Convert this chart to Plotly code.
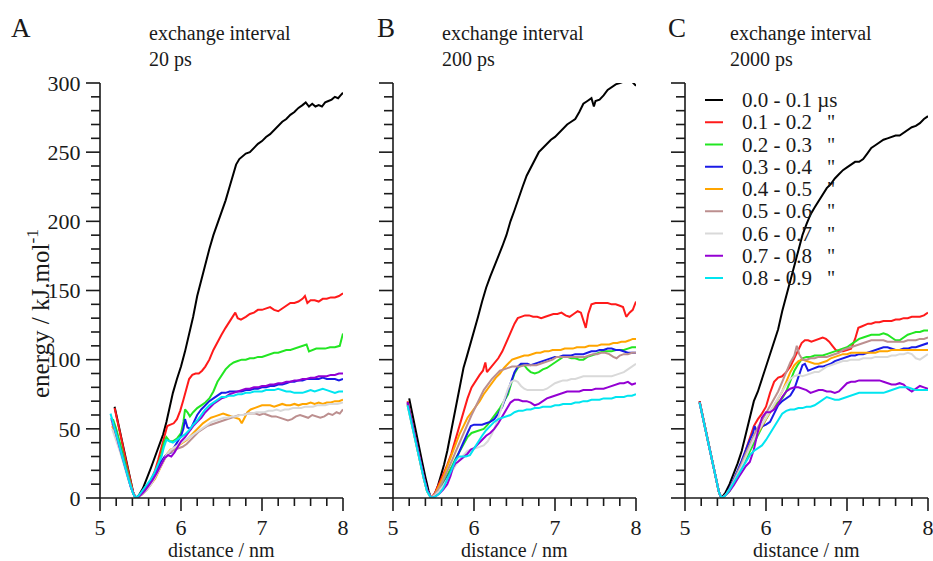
import plotly.graph_objects as go

# ---------------- data ----------------
LEGEND_LABELS = ["0.0 - 0.1 \u00b5s", "0.1 - 0.2", "0.2 - 0.3", "0.3 - 0.4", "0.4 - 0.5",
                 "0.5 - 0.6", "0.6 - 0.7", "0.7 - 0.8", "0.8 - 0.9"]
COLORS = ["#000000", "#ff1a1a", "#22e622", "#1a1ae6", "#ffa500",
          "#bc8f8f", "#d9d9d9", "#9400d3", "#00e5f0"]
PANEL_LETTERS = ["A", "B", "C"]
INTERVALS = ["20 ps", "200 ps", "2000 ps"]
X_TITLE = "distance / nm"
Y_TITLE = "energy / kJ.mol<sup>-1</sup>"
X_RANGE = [5, 8]
Y_RANGE = [0, 300]
X_MAJOR, X_MINOR = 1.0, 0.2
Y_MAJOR, Y_MINOR = 50, 10

# Panel A (exchange interval 20 ps)
A_BLACK = [(5.18,66),(5.22,55),(5.27,42),(5.32,28),(5.37,14),(5.41,4),(5.44,0),(5.48,2),(5.53,7),(5.58,14),(5.63,22),(5.68,30),(5.73,38),(5.78,46),(5.82,55),(5.86,66),(5.9,76),(5.95,86),(6.0,95),(6.05,106),(6.1,118),(6.15,131),(6.2,146),(6.25,158),(6.3,168),(6.35,180),(6.4,190),(6.45,198),(6.5,207),(6.55,215),(6.6,225),(6.64,234),(6.68,241),(6.72,245),(6.76,247),(6.8,249),(6.85,250),(6.9,253),(6.95,256),(7.0,258),(7.05,261),(7.1,263),(7.15,266),(7.2,269),(7.25,272),(7.3,274),(7.35,277),(7.4,279),(7.45,282),(7.5,284),(7.54,286),(7.58,283),(7.62,285),(7.66,283),(7.7,284),(7.74,283),(7.78,286),(7.82,287),(7.86,288),(7.9,290),(7.94,289),(7.97,291),(8.0,293)]
A_RED = [(5.18,65),(5.22,55),(5.27,41),(5.32,27),(5.37,13),(5.41,4),(5.44,0),(5.48,1),(5.53,4),(5.58,8),(5.63,13),(5.68,20),(5.72,28),(5.76,37),(5.8,46),(5.83,52),(5.87,53),(5.91,54),(5.95,57),(5.99,63),(6.03,71),(6.07,80),(6.1,86),(6.14,89),(6.18,90),(6.22,90),(6.26,92),(6.3,95),(6.35,100),(6.4,107),(6.45,113),(6.5,118),(6.55,123),(6.6,128),(6.64,131),(6.67,134),(6.7,130),(6.74,129),(6.8,131),(6.85,133),(6.9,134),(6.95,136),(7.0,136),(7.05,137),(7.1,138),(7.15,136),(7.2,135),(7.25,137),(7.3,139),(7.35,141),(7.4,141),(7.45,142),(7.5,144),(7.53,146),(7.56,141),(7.6,143),(7.65,143),(7.7,142),(7.75,144),(7.8,144),(7.85,145),(7.9,145),(7.95,146),(8.0,148)]
A_GREEN = [(5.16,57),(5.2,50),(5.25,39),(5.3,27),(5.35,15),(5.4,5),(5.44,0),(5.48,1),(5.53,4),(5.58,8),(5.63,13),(5.68,18),(5.72,24),(5.76,32),(5.79,40),(5.82,44),(5.86,41),(5.9,41),(5.95,43),(6.0,47),(6.03,55),(6.05,64),(6.08,62),(6.11,59),(6.15,62),(6.2,65),(6.25,67),(6.3,69),(6.35,72),(6.4,77),(6.45,84),(6.5,89),(6.55,93),(6.6,96),(6.65,98),(6.7,99),(6.75,100),(6.8,100),(6.85,101),(6.9,101),(6.95,102),(7.0,102),(7.05,103),(7.1,104),(7.15,105),(7.2,105),(7.25,106),(7.3,107),(7.35,107),(7.4,108),(7.45,109),(7.5,110),(7.55,111),(7.58,106),(7.62,107),(7.67,108),(7.72,108),(7.78,108),(7.84,109),(7.9,109),(7.96,110),(7.98,114),(8.0,119)]
A_BLUE = [(5.14,58),(5.18,51),(5.23,40),(5.28,29),(5.33,18),(5.38,8),(5.42,2),(5.45,0),(5.5,3),(5.55,7),(5.6,10),(5.65,14),(5.7,20),(5.75,26),(5.8,30),(5.84,32),(5.88,33),(5.92,37),(5.96,41),(6.0,45),(6.03,50),(6.05,57),(6.08,51),(6.12,50),(6.16,55),(6.2,60),(6.25,64),(6.3,67),(6.35,70),(6.4,72),(6.45,74),(6.5,76),(6.55,76),(6.6,77),(6.65,77),(6.7,77),(6.75,77),(6.8,78),(6.85,78),(6.9,79),(6.95,79),(7.0,80),(7.05,80),(7.1,81),(7.15,81),(7.2,82),(7.25,82),(7.3,83),(7.35,84),(7.4,84),(7.45,85),(7.5,85),(7.55,86),(7.6,86),(7.65,86),(7.7,86),(7.75,87),(7.8,86),(7.85,86),(7.9,86),(7.95,85),(8.0,86)]
A_ORANGE = [(5.15,52),(5.2,44),(5.25,34),(5.3,24),(5.35,14),(5.4,5),(5.44,0),(5.48,1),(5.53,3),(5.58,6),(5.63,10),(5.68,14),(5.73,20),(5.78,26),(5.83,32),(5.87,35),(5.92,36),(5.97,38),(6.02,40),(6.07,42),(6.12,45),(6.17,48),(6.22,51),(6.27,54),(6.32,56),(6.37,58),(6.42,59),(6.47,60),(6.52,61),(6.57,60),(6.62,59),(6.67,58),(6.72,57),(6.75,54),(6.78,58),(6.82,62),(6.86,64),(6.9,65),(6.95,66),(7.0,67),(7.05,67),(7.1,67),(7.15,66),(7.2,67),(7.25,68),(7.3,67),(7.35,67),(7.4,68),(7.45,67),(7.5,68),(7.55,68),(7.6,69),(7.65,68),(7.7,69),(7.75,68),(7.8,69),(7.85,69),(7.9,70),(7.95,70),(8.0,71)]
A_BROWN = [(5.15,54),(5.2,46),(5.25,35),(5.3,24),(5.35,14),(5.4,5),(5.44,0),(5.48,1),(5.53,3),(5.58,6),(5.63,10),(5.68,15),(5.73,21),(5.78,27),(5.83,32),(5.87,33),(5.92,35),(5.97,36),(6.02,37),(6.07,39),(6.12,42),(6.17,45),(6.22,48),(6.27,50),(6.32,52),(6.37,53),(6.42,54),(6.47,55),(6.52,56),(6.57,57),(6.62,58),(6.67,59),(6.72,60),(6.77,60),(6.82,61),(6.87,61),(6.92,61),(6.97,60),(7.02,61),(7.07,60),(7.12,59),(7.17,59),(7.22,58),(7.27,57),(7.32,56),(7.37,57),(7.42,59),(7.47,60),(7.52,59),(7.57,58),(7.62,60),(7.67,59),(7.72,58),(7.77,59),(7.82,61),(7.87,60),(7.92,62),(7.96,61),(8.0,64)]
A_GRAY = [(5.15,50),(5.2,42),(5.25,33),(5.3,23),(5.35,13),(5.4,5),(5.44,0),(5.48,1),(5.53,3),(5.58,6),(5.63,10),(5.68,15),(5.73,21),(5.78,27),(5.83,32),(5.88,35),(5.93,37),(5.98,39),(6.03,41),(6.08,43),(6.13,45),(6.18,47),(6.23,49),(6.28,51),(6.33,53),(6.38,55),(6.43,56),(6.48,57),(6.53,58),(6.58,58),(6.63,59),(6.68,59),(6.73,60),(6.78,60),(6.83,61),(6.88,61),(6.93,62),(6.98,62),(7.03,62),(7.08,63),(7.13,63),(7.18,64),(7.23,63),(7.28,64),(7.33,64),(7.38,65),(7.43,65),(7.48,65),(7.53,66),(7.58,66),(7.63,66),(7.68,67),(7.73,67),(7.78,67),(7.83,68),(7.88,68),(7.93,68),(8.0,69)]
A_PURPLE = [(5.14,57),(5.18,50),(5.23,39),(5.28,28),(5.33,17),(5.38,8),(5.42,2),(5.45,0),(5.5,2),(5.55,5),(5.6,9),(5.65,13),(5.7,18),(5.75,24),(5.8,29),(5.84,31),(5.88,30),(5.92,33),(5.96,37),(6.0,41),(6.05,44),(6.1,48),(6.15,52),(6.2,55),(6.25,58),(6.3,62),(6.35,65),(6.4,68),(6.45,70),(6.5,72),(6.55,73),(6.6,75),(6.65,76),(6.7,77),(6.75,78),(6.8,79),(6.85,79),(6.9,80),(6.95,80),(7.0,81),(7.05,81),(7.1,82),(7.15,82),(7.2,83),(7.25,83),(7.3,84),(7.35,84),(7.4,85),(7.45,85),(7.5,86),(7.55,86),(7.6,87),(7.65,87),(7.7,88),(7.75,88),(7.8,88),(7.85,89),(7.9,89),(7.95,90),(8.0,90)]
A_CYAN = [(5.13,61),(5.17,53),(5.22,42),(5.27,31),(5.32,20),(5.37,10),(5.41,3),(5.44,0),(5.48,2),(5.52,5),(5.57,9),(5.62,13),(5.67,18),(5.72,24),(5.76,30),(5.79,37),(5.82,42),(5.86,41),(5.9,40),(5.95,42),(6.0,44),(6.05,46),(6.1,49),(6.15,53),(6.2,56),(6.25,60),(6.3,64),(6.35,67),(6.4,69),(6.45,71),(6.5,73),(6.55,73),(6.6,74),(6.65,74),(6.7,75),(6.75,75),(6.8,76),(6.85,76),(6.9,77),(6.95,77),(7.0,77),(7.05,78),(7.1,78),(7.15,78),(7.2,79),(7.25,78),(7.3,77),(7.35,77),(7.4,76),(7.45,76),(7.5,76),(7.55,77),(7.6,78),(7.65,77),(7.7,78),(7.75,79),(7.8,78),(7.85,77),(7.9,76),(7.95,77),(8.0,77)]

# Panel B (exchange interval 200 ps)
B_BLACK = [(5.2,72),(5.24,60),(5.28,48),(5.32,37),(5.36,26),(5.4,15),(5.44,5),(5.47,0),(5.51,2),(5.55,8),(5.59,16),(5.63,24),(5.67,34),(5.71,46),(5.75,58),(5.79,71),(5.83,84),(5.87,94),(5.91,102),(5.95,110),(6.0,120),(6.05,131),(6.1,142),(6.15,152),(6.2,160),(6.25,167),(6.3,175),(6.35,182),(6.4,190),(6.45,200),(6.5,208),(6.55,217),(6.6,225),(6.65,233),(6.7,239),(6.75,245),(6.8,250),(6.85,253),(6.9,256),(6.95,259),(7.0,261),(7.05,264),(7.1,267),(7.15,270),(7.2,272),(7.25,274),(7.3,279),(7.35,285),(7.4,287),(7.45,289),(7.48,283),(7.5,287),(7.55,288),(7.6,291),(7.65,295),(7.7,297),(7.75,299),(7.8,300),(7.85,301),(7.9,301),(7.95,301),(8.0,298)]
B_RED = [(5.18,70),(5.22,59),(5.26,47),(5.3,36),(5.34,25),(5.38,15),(5.42,6),(5.47,0),(5.52,4),(5.57,10),(5.62,17),(5.67,24),(5.72,32),(5.77,42),(5.82,52),(5.87,63),(5.92,72),(5.97,80),(6.02,85),(6.07,89),(6.11,92),(6.14,98),(6.16,91),(6.2,94),(6.25,98),(6.3,101),(6.35,106),(6.4,113),(6.45,119),(6.5,126),(6.54,130),(6.58,131),(6.63,132),(6.68,132),(6.73,131),(6.78,131),(6.83,130),(6.88,131),(6.93,132),(6.98,133),(7.03,133),(7.08,134),(7.13,132),(7.18,131),(7.23,133),(7.28,135),(7.32,134),(7.35,129),(7.38,123),(7.41,133),(7.45,140),(7.5,141),(7.55,141),(7.6,141),(7.65,141),(7.7,140),(7.75,140),(7.8,139),(7.84,138),(7.88,131),(7.92,134),(7.96,136),(8.0,142)]
B_GREEN = [(5.18,68),(5.22,57),(5.26,46),(5.3,35),(5.34,24),(5.38,14),(5.42,5),(5.47,0),(5.52,2),(5.57,6),(5.62,11),(5.67,16),(5.72,22),(5.77,28),(5.82,33),(5.87,38),(5.92,44),(5.97,47),(6.02,48),(6.07,49),(6.12,50),(6.17,53),(6.22,57),(6.27,61),(6.32,65),(6.37,70),(6.42,75),(6.46,83),(6.5,90),(6.54,94),(6.58,96),(6.62,96),(6.66,93),(6.7,91),(6.75,90),(6.8,91),(6.85,93),(6.9,94),(6.95,96),(7.0,98),(7.05,100),(7.1,102),(7.15,102),(7.2,101),(7.25,101),(7.3,100),(7.35,100),(7.4,102),(7.45,103),(7.5,104),(7.55,105),(7.6,106),(7.65,106),(7.7,106),(7.75,107),(7.8,107),(7.85,107),(7.9,108),(7.95,109),(8.0,109)]
B_BLUE = [(5.18,69),(5.22,58),(5.26,47),(5.3,36),(5.34,25),(5.38,15),(5.42,6),(5.47,0),(5.52,2),(5.57,5),(5.62,9),(5.67,14),(5.72,20),(5.77,27),(5.82,34),(5.87,41),(5.92,47),(5.96,52),(6.0,53),(6.05,53),(6.1,53),(6.15,54),(6.2,55),(6.25,57),(6.3,61),(6.35,66),(6.4,74),(6.45,83),(6.5,91),(6.54,95),(6.58,97),(6.62,97),(6.66,97),(6.7,96),(6.75,97),(6.8,98),(6.85,99),(6.9,100),(6.95,101),(7.0,102),(7.05,102),(7.1,103),(7.15,103),(7.2,103),(7.25,104),(7.3,104),(7.35,104),(7.4,105),(7.45,106),(7.5,106),(7.55,107),(7.6,107),(7.65,108),(7.7,108),(7.75,107),(7.8,107),(7.85,106),(7.9,105),(7.95,105),(8.0,105)]
B_ORANGE = [(5.18,68),(5.22,57),(5.26,46),(5.3,35),(5.34,24),(5.38,14),(5.42,5),(5.47,0),(5.52,3),(5.57,9),(5.62,15),(5.67,23),(5.72,31),(5.77,39),(5.82,46),(5.87,52),(5.92,58),(5.97,62),(6.02,66),(6.07,70),(6.12,75),(6.17,79),(6.22,83),(6.27,87),(6.32,90),(6.37,94),(6.42,97),(6.47,100),(6.52,101),(6.57,102),(6.62,103),(6.67,103),(6.72,104),(6.77,105),(6.82,105),(6.87,106),(6.92,106),(6.97,107),(7.02,107),(7.07,107),(7.12,108),(7.17,108),(7.22,108),(7.27,109),(7.32,109),(7.37,109),(7.42,110),(7.47,110),(7.52,110),(7.57,111),(7.62,111),(7.67,111),(7.72,112),(7.77,112),(7.82,113),(7.87,113),(7.92,114),(7.96,115),(8.0,115)]
B_BROWN = [(5.18,67),(5.22,56),(5.26,45),(5.3,34),(5.34,24),(5.38,14),(5.42,5),(5.47,0),(5.52,3),(5.57,7),(5.62,13),(5.67,19),(5.72,26),(5.77,33),(5.82,40),(5.87,47),(5.92,54),(5.97,60),(6.02,66),(6.07,72),(6.12,78),(6.17,82),(6.22,86),(6.27,89),(6.32,92),(6.37,93),(6.42,94),(6.47,95),(6.52,95),(6.57,95),(6.62,96),(6.67,96),(6.72,96),(6.77,96),(6.82,97),(6.87,98),(6.92,99),(6.97,100),(7.02,102),(7.07,102),(7.12,102),(7.17,102),(7.22,102),(7.27,102),(7.32,102),(7.37,102),(7.42,103),(7.47,104),(7.52,104),(7.57,105),(7.62,105),(7.67,104),(7.72,102),(7.76,101),(7.8,103),(7.85,104),(7.9,104),(7.95,105),(8.0,105)]
B_GRAY = [(5.18,67),(5.22,56),(5.26,45),(5.3,34),(5.34,24),(5.38,14),(5.42,5),(5.47,0),(5.52,2),(5.57,5),(5.62,9),(5.67,14),(5.72,19),(5.77,24),(5.82,28),(5.87,31),(5.92,34),(5.97,35),(6.02,36),(6.07,37),(6.12,38),(6.17,41),(6.22,46),(6.27,53),(6.32,62),(6.37,71),(6.42,79),(6.46,84),(6.5,85),(6.54,84),(6.58,81),(6.62,79),(6.66,78),(6.7,78),(6.75,78),(6.8,78),(6.85,78),(6.9,79),(6.95,81),(7.0,83),(7.05,84),(7.1,85),(7.15,85),(7.2,86),(7.25,86),(7.3,87),(7.35,88),(7.4,88),(7.45,88),(7.5,88),(7.55,88),(7.6,88),(7.65,88),(7.7,88),(7.75,89),(7.8,90),(7.85,91),(7.9,93),(7.95,95),(8.0,97)]
B_PURPLE = [(5.18,69),(5.22,58),(5.26,47),(5.3,36),(5.34,25),(5.38,15),(5.42,6),(5.47,0),(5.52,1),(5.57,3),(5.62,6),(5.67,10),(5.71,16),(5.74,22),(5.77,25),(5.8,26),(5.84,28),(5.88,30),(5.92,32),(5.96,35),(6.0,36),(6.05,39),(6.1,42),(6.15,45),(6.2,47),(6.25,50),(6.3,54),(6.35,59),(6.4,65),(6.45,69),(6.5,71),(6.55,71),(6.6,70),(6.65,70),(6.7,69),(6.75,67),(6.8,68),(6.85,70),(6.9,72),(6.95,73),(7.0,74),(7.05,75),(7.1,76),(7.15,77),(7.2,77),(7.25,77),(7.3,77),(7.35,78),(7.4,78),(7.45,78),(7.5,79),(7.55,79),(7.6,79),(7.65,80),(7.7,81),(7.75,82),(7.8,83),(7.85,83),(7.9,84),(7.95,82),(8.0,83)]
B_CYAN = [(5.18,67),(5.22,56),(5.26,45),(5.3,34),(5.34,24),(5.38,14),(5.42,5),(5.47,0),(5.52,1),(5.57,3),(5.62,7),(5.67,13),(5.72,20),(5.77,27),(5.81,30),(5.85,30),(5.9,30),(5.95,31),(6.0,36),(6.05,41),(6.1,45),(6.15,49),(6.2,52),(6.25,55),(6.3,57),(6.35,58),(6.4,59),(6.45,60),(6.5,62),(6.55,63),(6.6,63),(6.65,64),(6.7,64),(6.75,65),(6.8,65),(6.85,66),(6.9,66),(6.95,66),(7.0,67),(7.05,67),(7.1,68),(7.15,68),(7.2,68),(7.25,69),(7.3,69),(7.35,70),(7.4,70),(7.45,71),(7.5,71),(7.55,71),(7.6,72),(7.65,72),(7.7,72),(7.75,73),(7.8,73),(7.85,73),(7.9,74),(7.95,74),(8.0,75)]

# Panel C (exchange interval 2000 ps)
C_BLACK = [(5.18,70),(5.22,59),(5.26,47),(5.3,35),(5.34,24),(5.38,13),(5.42,4),(5.45,0),(5.5,4),(5.55,10),(5.6,17),(5.65,25),(5.7,34),(5.75,46),(5.8,60),(5.85,70),(5.9,77),(5.95,86),(6.0,95),(6.05,104),(6.1,113),(6.15,122),(6.2,135),(6.25,146),(6.3,158),(6.35,170),(6.4,180),(6.45,190),(6.5,198),(6.55,205),(6.6,210),(6.65,215),(6.7,220),(6.75,224),(6.8,227),(6.85,231),(6.9,234),(6.95,237),(7.0,239),(7.05,241),(7.1,243),(7.15,243),(7.2,245),(7.25,249),(7.3,253),(7.35,255),(7.4,257),(7.45,259),(7.5,260),(7.55,261),(7.6,262),(7.65,262),(7.7,264),(7.75,266),(7.8,268),(7.85,269),(7.9,271),(7.95,274),(8.0,276)]
C_RED = [(5.18,70),(5.22,59),(5.26,47),(5.3,35),(5.34,24),(5.38,13),(5.42,4),(5.45,0),(5.5,2),(5.55,6),(5.6,12),(5.65,18),(5.7,26),(5.75,35),(5.8,44),(5.85,52),(5.9,57),(5.95,61),(6.0,66),(6.05,76),(6.1,84),(6.15,87),(6.2,88),(6.25,91),(6.3,95),(6.35,101),(6.4,108),(6.44,112),(6.48,114),(6.52,114),(6.56,113),(6.6,114),(6.65,115),(6.7,116),(6.74,115),(6.78,113),(6.82,110),(6.86,107),(6.9,106),(6.95,106),(7.0,107),(7.05,108),(7.1,115),(7.14,123),(7.18,124),(7.22,125),(7.26,126),(7.3,126),(7.35,127),(7.4,127),(7.45,128),(7.5,128),(7.55,128),(7.6,129),(7.65,129),(7.7,130),(7.75,130),(7.8,131),(7.85,131),(7.9,131),(7.95,132),(8.0,134)]
C_GREEN = [(5.18,69),(5.22,58),(5.26,46),(5.3,35),(5.34,24),(5.38,13),(5.42,4),(5.45,0),(5.5,2),(5.55,5),(5.6,10),(5.65,16),(5.7,22),(5.75,28),(5.8,34),(5.85,40),(5.9,46),(5.95,52),(6.0,57),(6.05,62),(6.1,66),(6.15,69),(6.2,72),(6.25,77),(6.3,85),(6.35,92),(6.4,97),(6.45,101),(6.5,102),(6.55,102),(6.6,103),(6.65,103),(6.7,103),(6.75,104),(6.8,105),(6.85,106),(6.9,107),(6.95,108),(7.0,109),(7.05,111),(7.1,113),(7.15,115),(7.2,116),(7.25,117),(7.3,118),(7.35,118),(7.4,118),(7.45,119),(7.5,118),(7.55,116),(7.6,114),(7.65,114),(7.7,116),(7.75,118),(7.8,119),(7.85,120),(7.9,120),(7.95,121),(8.0,121)]
C_BLUE = [(5.18,69),(5.22,58),(5.26,46),(5.3,35),(5.34,24),(5.38,13),(5.42,4),(5.45,0),(5.5,2),(5.55,7),(5.6,13),(5.65,20),(5.7,27),(5.75,35),(5.8,42),(5.84,47),(5.86,52),(5.88,49),(5.92,50),(5.96,52),(6.0,53),(6.05,55),(6.1,61),(6.15,67),(6.2,70),(6.25,72),(6.3,74),(6.35,79),(6.4,87),(6.45,96),(6.48,97),(6.52,92),(6.56,93),(6.6,94),(6.65,95),(6.7,95),(6.75,96),(6.8,97),(6.85,99),(6.9,100),(6.95,101),(7.0,102),(7.05,103),(7.1,103),(7.15,104),(7.2,104),(7.25,105),(7.3,106),(7.35,107),(7.4,108),(7.45,109),(7.5,109),(7.55,108),(7.6,107),(7.65,107),(7.7,108),(7.75,108),(7.8,109),(7.85,109),(7.9,110),(7.95,111),(8.0,112)]
C_ORANGE = [(5.18,69),(5.22,58),(5.26,46),(5.3,35),(5.34,24),(5.38,13),(5.42,4),(5.45,0),(5.5,2),(5.55,6),(5.6,11),(5.65,17),(5.7,24),(5.75,31),(5.8,38),(5.85,43),(5.9,47),(5.95,52),(6.0,57),(6.05,62),(6.1,66),(6.15,71),(6.2,77),(6.25,84),(6.3,91),(6.35,96),(6.4,99),(6.45,100),(6.5,99),(6.55,98),(6.6,97),(6.65,97),(6.7,98),(6.75,99),(6.8,101),(6.85,102),(6.9,103),(6.95,104),(7.0,104),(7.05,105),(7.1,105),(7.15,105),(7.2,105),(7.25,105),(7.3,105),(7.35,105),(7.4,106),(7.45,106),(7.5,106),(7.55,107),(7.6,107),(7.65,107),(7.7,107),(7.75,107),(7.8,107),(7.85,107),(7.9,107),(7.95,107),(8.0,107)]
C_BROWN = [(5.18,69),(5.22,58),(5.26,46),(5.3,35),(5.34,24),(5.38,13),(5.42,4),(5.45,0),(5.5,2),(5.55,6),(5.6,12),(5.65,18),(5.7,25),(5.75,32),(5.8,39),(5.85,45),(5.9,51),(5.95,56),(6.0,61),(6.05,66),(6.1,71),(6.15,77),(6.2,84),(6.25,91),(6.3,98),(6.35,103),(6.38,110),(6.41,104),(6.45,100),(6.5,100),(6.55,101),(6.6,101),(6.65,102),(6.7,102),(6.75,102),(6.8,103),(6.85,104),(6.9,105),(6.95,107),(7.0,108),(7.05,109),(7.1,110),(7.15,111),(7.2,112),(7.25,113),(7.3,114),(7.35,114),(7.4,114),(7.45,114),(7.5,113),(7.55,113),(7.6,113),(7.65,113),(7.7,113),(7.75,114),(7.8,114),(7.85,114),(7.9,115),(7.95,115),(8.0,116)]
C_GRAY = [(5.18,69),(5.22,58),(5.26,46),(5.3,35),(5.34,24),(5.38,13),(5.42,4),(5.45,0),(5.5,2),(5.55,6),(5.6,11),(5.65,17),(5.7,23),(5.75,30),(5.8,37),(5.85,43),(5.9,48),(5.95,53),(6.0,58),(6.05,63),(6.1,68),(6.15,73),(6.2,78),(6.25,82),(6.3,86),(6.35,88),(6.4,89),(6.45,88),(6.5,89),(6.55,90),(6.6,91),(6.65,91),(6.7,93),(6.75,95),(6.8,96),(6.85,97),(6.9,98),(6.95,99),(7.0,99),(7.05,100),(7.1,100),(7.15,100),(7.2,101),(7.25,101),(7.3,101),(7.35,102),(7.4,102),(7.45,102),(7.5,102),(7.55,103),(7.6,103),(7.65,104),(7.7,104),(7.75,105),(7.8,104),(7.85,101),(7.9,100),(7.95,102),(8.0,104)]
C_PURPLE = [(5.18,69),(5.22,58),(5.26,46),(5.3,35),(5.34,24),(5.38,13),(5.42,4),(5.45,0),(5.5,2),(5.55,5),(5.6,9),(5.65,14),(5.7,19),(5.75,23),(5.8,26),(5.85,35),(5.9,48),(5.95,58),(6.0,62),(6.05,62),(6.1,64),(6.15,68),(6.2,73),(6.25,77),(6.3,79),(6.35,80),(6.4,80),(6.45,79),(6.5,78),(6.55,76),(6.6,77),(6.65,78),(6.7,78),(6.75,77),(6.8,77),(6.85,76),(6.9,77),(6.95,80),(7.0,83),(7.05,84),(7.1,84),(7.15,85),(7.2,85),(7.25,85),(7.3,85),(7.35,85),(7.4,85),(7.45,84),(7.5,83),(7.55,82),(7.6,82),(7.65,83),(7.7,82),(7.75,79),(7.8,77),(7.85,79),(7.9,81),(7.95,80),(8.0,79)]
C_CYAN = [(5.18,69),(5.22,58),(5.26,46),(5.3,35),(5.34,24),(5.38,13),(5.42,4),(5.45,0),(5.5,2),(5.55,6),(5.6,11),(5.65,16),(5.7,22),(5.75,27),(5.8,31),(5.85,34),(5.9,36),(5.95,38),(6.0,42),(6.05,47),(6.1,52),(6.15,57),(6.2,61),(6.25,63),(6.3,64),(6.35,64),(6.4,65),(6.45,65),(6.5,66),(6.55,66),(6.6,67),(6.65,69),(6.7,71),(6.75,73),(6.8,72),(6.85,71),(6.9,71),(6.95,72),(7.0,73),(7.05,74),(7.1,75),(7.15,76),(7.2,76),(7.25,76),(7.3,76),(7.35,76),(7.4,76),(7.45,76),(7.5,77),(7.55,78),(7.6,79),(7.65,80),(7.7,80),(7.75,80),(7.8,79),(7.85,78),(7.9,78),(7.95,78),(8.0,78)]

PANEL_SERIES = [
    [A_BLACK, A_RED, A_GREEN, A_BLUE, A_ORANGE, A_BROWN, A_GRAY, A_PURPLE, A_CYAN],
    [B_BLACK, B_RED, B_GREEN, B_BLUE, B_ORANGE, B_BROWN, B_GRAY, B_PURPLE, B_CYAN],
    [C_BLACK, C_RED, C_GREEN, C_BLUE, C_ORANGE, C_BROWN, C_GRAY, C_PURPLE, C_CYAN],
]

# ---------------- layout constants (pixels of the 933x561 page) ----------------
W, H = 933, 561
FONT = "Liberation Serif, Times New Roman, serif"
INK = "#1a1a1a"
AXW = 1.6
X_DOMAINS_PX = [(100, 343), (393, 636), (685, 928)]
Y_BOTTOM_PX, Y_TOP_PX = 498, 83
Y_DOMAIN = [(H - Y_BOTTOM_PX) / H, (H - Y_TOP_PX) / H]
LETTER_X_PX = [21, 386, 677]
TITLE_X_PX = [147, 440, 728]
X_MAJOR_LEN, X_MINOR_LEN = 13, 8
Y_MAJOR_LEN, Y_MINOR_LEN = 14, 9


def px(xp):
    return xp / W


def py(yp):
    return 1 - yp / H


def ax_id(letter, n):
    return letter if n == 1 else f"{letter}{n}"


fig = go.Figure()

for p, series in enumerate(PANEL_SERIES):
    for k, pts in enumerate(series):
        fig.add_trace(go.Scatter(
            x=[q[0] for q in pts], y=[q[1] for q in pts],
            mode="lines", name=LEGEND_LABELS[k],
            line=dict(color=COLORS[k], width=2),
            showlegend=False, xaxis=ax_id("x", p + 1), yaxis=ax_id("y", p + 1),
        ))

layout = dict(
    width=W, height=H, autosize=False,
    margin=dict(l=0, r=0, t=0, b=0, pad=0),
    paper_bgcolor="white", plot_bgcolor="white",
    showlegend=False,
    font=dict(family=FONT, color=INK),
)

for p in range(3):
    n = p + 1
    x0, x1 = X_DOMAINS_PX[p]
    # native axes provide the scale and the tick labels; tick marks/lines are drawn below
    layout["xaxis" if n == 1 else f"xaxis{n}"] = dict(
        domain=[px(x0), px(x1)], anchor=ax_id("y", n), range=X_RANGE,
        tickmode="linear", tick0=X_RANGE[0], dtick=X_MAJOR,
        ticks="outside", ticklen=X_MAJOR_LEN, tickcolor="rgba(0,0,0,0)",
        ticklabelstandoff=-3,
        showline=False, showgrid=False, zeroline=False, automargin=False,
        ticklabeloverflow="allow",
        tickfont=dict(family=FONT, size=22, color=INK),
    )
    layout["yaxis" if n == 1 else f"yaxis{n}"] = dict(
        domain=Y_DOMAIN, anchor=ax_id("x", n), range=Y_RANGE,
        tickmode="linear", tick0=Y_RANGE[0], dtick=Y_MAJOR,
        ticks="outside", ticklen=Y_MAJOR_LEN, tickcolor="rgba(0,0,0,0)",
        showline=False, showgrid=False, zeroline=False, automargin=False,
        ticklabeloverflow="allow",
        showticklabels=(p == 0),
        tickfont=dict(family=FONT, size=22, color=INK),
    )

fig.update_layout(**layout)

# ---- axis lines and tick marks (xmgrace style: left + bottom, ticks outside) ----
shapes = []


def seg(xa, ya, xb, yb, color=INK, width=AXW):
    shapes.append(dict(type="line", xref="paper", yref="paper", opacity=1,
                       x0=px(xa), y0=py(ya), x1=px(xb), y1=py(yb),
                       line=dict(color=color, width=width)))


n_x_minor = int(round((X_RANGE[1] - X_RANGE[0]) / X_MINOR))
n_y_minor = int(round((Y_RANGE[1] - Y_RANGE[0]) / Y_MINOR))
x_per_major = int(round(X_MAJOR / X_MINOR))
y_per_major = int(round(Y_MAJOR / Y_MINOR))
for p in range(3):
    x0, x1 = X_DOMAINS_PX[p]
    seg(x0, Y_BOTTOM_PX, x1, Y_BOTTOM_PX)          # x axis line
    seg(x0, Y_BOTTOM_PX, x0, Y_TOP_PX)             # y axis line
    for i in range(n_x_minor + 1):
        xp = x0 + (x1 - x0) * i / n_x_minor
        ln = X_MAJOR_LEN if i % x_per_major == 0 else X_MINOR_LEN
        seg(xp, Y_BOTTOM_PX, xp, Y_BOTTOM_PX + ln)
    for j in range(n_y_minor + 1):
        yp = Y_BOTTOM_PX - (Y_BOTTOM_PX - Y_TOP_PX) * j / n_y_minor
        ln = Y_MAJOR_LEN if j % y_per_major == 0 else Y_MINOR_LEN
        seg(x0 - ln, yp, x0, yp)

annotations = []
for p in range(3):
    x0, x1 = X_DOMAINS_PX[p]
    annotations.append(dict(text=PANEL_LETTERS[p], x=px(LETTER_X_PX[p]), y=py(28),
                            xref="paper", yref="paper", xanchor="center", yanchor="middle",
                            showarrow=False, font=dict(family=FONT, size=27, color=INK)))
    annotations.append(dict(text="exchange interval<br>" + INTERVALS[p],
                            x=px(TITLE_X_PX[p]), y=py(46), align="left",
                            xref="paper", yref="paper", xanchor="left", yanchor="middle",
                            showarrow=False, font=dict(family=FONT, size=20, color=INK)))
    annotations.append(dict(text=X_TITLE, x=px((x0 + x1) / 2), y=py(550),
                            xref="paper", yref="paper", xanchor="center", yanchor="middle",
                            showarrow=False, font=dict(family=FONT, size=20, color=INK)))

annotations.append(dict(text=Y_TITLE, x=px(38), y=py(314),
                        xref="paper", yref="paper", xanchor="center", yanchor="middle",
                        textangle=-90, showarrow=False,
                        font=dict(family=FONT, size=25, color=INK)))

# legend drawn inside panel C
for i, lab in enumerate(LEGEND_LABELS):
    yc = 100 + i * 22.25
    seg(705, yc, 723, yc, color=COLORS[i], width=2)
    annotations.append(dict(text=lab, x=px(740), y=py(yc), xref="paper", yref="paper",
                            xanchor="left", yanchor="middle", showarrow=False,
                            font=dict(family=FONT, size=21, color=INK)))
    if i > 0:
        annotations.append(dict(text='"', x=px(825), y=py(yc), xref="paper", yref="paper",
                                xanchor="left", yanchor="middle", showarrow=False,
                                font=dict(family=FONT, size=20, color=INK)))

fig.update_layout(annotations=annotations, shapes=shapes)

fig.write_html("out.html")
